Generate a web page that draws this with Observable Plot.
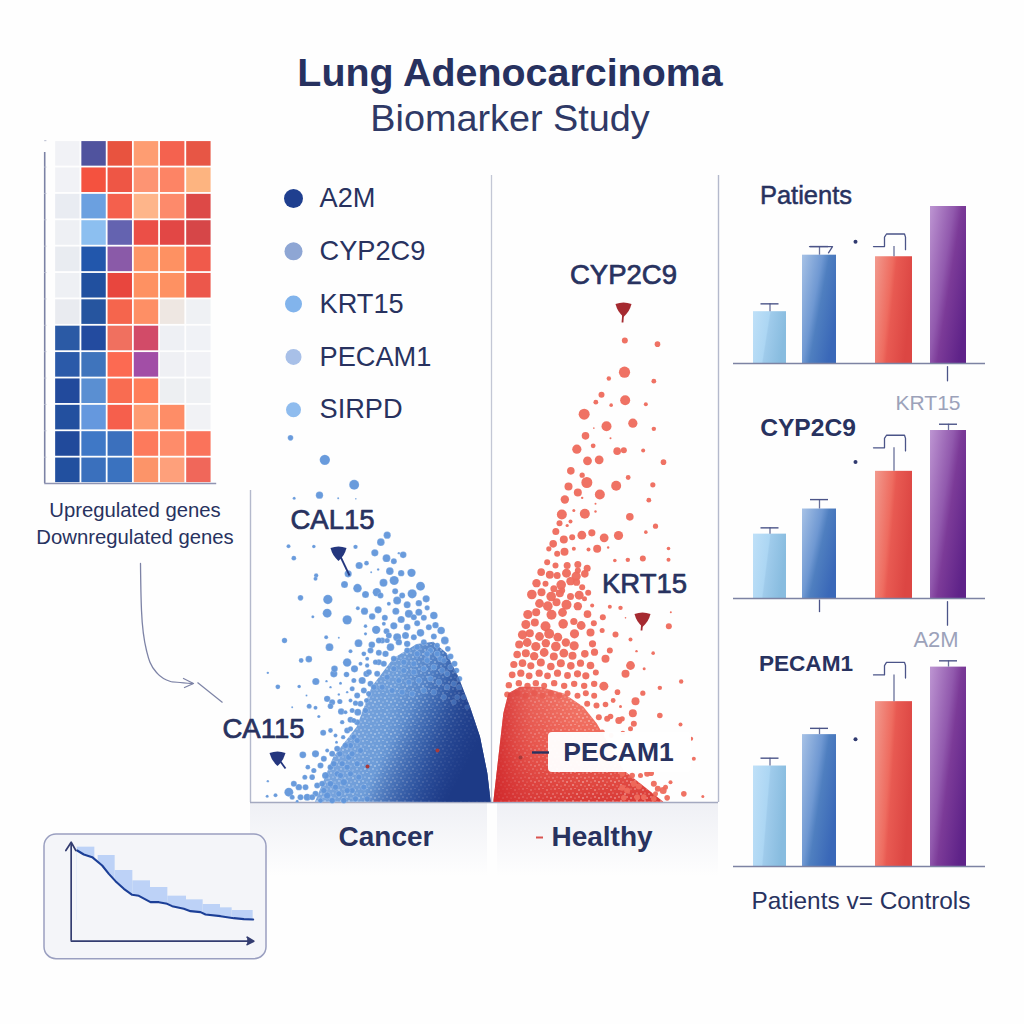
<!DOCTYPE html>
<html><head><meta charset="utf-8">
<script src="https://cdn.jsdelivr.net/npm/d3@7"></script>
<script src="https://cdn.jsdelivr.net/npm/@observablehq/plot@0.6"></script>
<style>
html,body{margin:0;padding:0;background:#fff}
#stage{position:relative;width:1024px;height:1024px;overflow:hidden;font-family:"Liberation Sans",Arial,sans-serif;color:#28325f;background:#fefefe}
#stage svg{position:absolute;overflow:visible;background:transparent;font-family:"Liberation Sans",Arial,sans-serif !important}
.t{position:absolute;white-space:nowrap;transform:translateX(-50%)}
</style></head><body><div id="stage"></div>
<script>
// ---------- data ----------
const titleText = "Lung Adenocarcinoma";
const subtitleText = "Biomarker Study";
const heatColors = [
 ["#f1f2f6","#50539e","#e8533f","#fe9d72","#f4624f","#e75645"],
 ["#f1f2f6","#f4523f","#ee5645","#fd9473","#fd8465","#fdb480"],
 ["#e9ecf2","#6ba0e0","#f4604d","#feb58a","#fd8a6b","#dd4947"],
 ["#eef0f4","#8cbff0","#6463b0","#eb4f47","#e24745","#d64648"],
 ["#e9ecf1","#2257ac","#8a5aa8","#fe9567","#fe9162","#f05a4b"],
 ["#eef0f4","#21509f","#e8463e","#fe9162","#fe9162","#ec574b"],
 ["#e9ebf0","#26559f","#f5654d","#fe8f65","#eee7e2","#eff1f4"],
 ["#2b5aa5","#234b9f","#f0705f","#d24b68","#eef0f4","#f0f2f6"],
 ["#2b5aa9","#3f74bc","#fc6a52","#a24ea6","#eff0f4","#f1f2f6"],
 ["#224a9c","#5a8fd2","#f96c51","#ff7e5a","#edeff2","#eff1f4"],
 ["#23509f","#6598de","#f65f4c","#fe9b72","#fe8d67","#f1f2f5"],
 ["#214a9b","#3f78c6","#3b70bd","#fd7a5c","#fe8c6a","#fa735b"],
 ["#22509f","#3a70bd","#3a72bf","#fc9469","#fea07b","#f0675a"]];
const heatLegend = ["Upregulated genes","Downregulated genes"];
const legendGenes = ["A2M","CYP2C9","KRT15","PECAM1","SIRPD"];
const legendColors = ["#1f3f8f","#8ea6d4","#82b4ec","#a8c0e8","#8fbcee"];
const legendSizes = [9.5,9,8.5,8,7.5];
const groupLabels = ["Cancer","Healthy"];

const blueHull = [[195,1145],[250,1010],[320,920],[365,800],[430,715],[500,672],[550,665],[590,700],[625,770],[660,860],[690,950],[712,1060],[722,1145]];
const blueDots = [[120,52,2.8],[223,118,5.2],[311,193,5],[207,224,3.7],[131,233,1.5],[263,233,1],[316,235,.8],[410,344,3.6],[391,365,3.8],[315,379,2.2],[190,378,1.8],[114,377,2],[373,397,3.6],[458,403,3.3],[445,398,1.2],[130,413,2.4],[408,413,3.9],[430,422,3],[326,435,3.6],[348,428,2.4],[293,460,3.6],[197,465,2.2],[195,475,2],[418,452,3.8],[452,458,3.2],[483,457,4.2],[362,455,1],[383,447,1.2],[431,480,4.6],[399,487,4],[282,492,3.5],[321,503,4.3],[510,497,4.5],[345,522,3.5],[379,515,4.2],[390,525,3],[434,512,3],[485,520,4.6],[455,525,3],[150,532,2.8],[232,537,4.7],[440,540,4],[527,535,3.6],[415,550,2],[470,553,3.5],[505,548,3.2],[530,562,2.6],[322,563,2],[342,572,3.6],[383,568,3.6],[230,578,4.5],[436,572,3.5],[475,580,4],[505,575,3.5],[550,585,3.8],[187,589,1.5],[365,588,3.2],[403,592,3],[290,598,4.7],[452,597,3.6],[490,590,3],[520,592,3],[345,617,1.8],[430,616,3.6],[400,610,2],[470,620,3.3],[500,608,3],[555,614,3.2],[572,630,3.8],[377,628,4.2],[408,632,3],[510,637,3.8],[535,620,3],[227,650,2],[265,652,1],[345,640,1.6],[440,650,4],[465,645,3.5],[490,650,3],[550,648,3],[583,660,3.9],[102,660,2.7],[324,668,3.9],[364,673,3.3],[237,680,3.9],[420,680,3.8],[445,665,3.2],[520,665,3],[560,675,2.8],[592,685,2.8],[300,692,2],[385,697,3],[405,700,3.2],[470,690,3],[500,700,3],[540,690,3],[600,708,3],[175,716,3.3],[152,720,2.4],[290,726,4.3],[350,715,2],[375,725,2.6],[430,715,3],[460,725,3],[490,730,3],[530,720,3],[570,715,3],[612,730,3],[252,745,3.3],[312,745,3.6],[350,735,2.2],[52,757,1.2],[250,760,3.6],[288,762,2.8],[348,760,3.2],[618,750,2.8],[196,783,3.6],[335,780,3.6],[270,788,1.5],[228,782,1.2],[82,799,2.4],[146,798,1.8],[240,800,1.2],[305,805,2.5],[627,775,2.8],[230,835,3.2],[245,845,3],[268,843,2.6],[240,857,2.8],[168,825,1],[265,822,1.2],[290,815,1.2],[355,820,2.8],[315,848,2.6],[176,857,2.5],[195,862,2],[125,860,1],[272,873,3.2],[322,875,3.5],[205,888,1.6],[300,898,3],[275,905,2.2],[348,840,2.5],[218,937,3],[240,930,2.4],[255,945,2],[300,925,2.6],[278,950,2.2],[258,965,1.5],[195,1000,3.6],[157,1003,3.4],[245,1000,3],[268,1000,3],[220,1015,3],[300,975,3],[172,1040,2.4],[190,1050,2.6],[210,1035,3],[240,1040,3],[275,1030,3],[163,1070,2.5],[185,1070,2.8],[225,1065,3.5],[260,1060,3],[295,1010,3.2],[130,1090,3],[145,1100,3.2],[115,1115,4.5],[165,1100,3],[200,1095,3],[240,1090,3.2],[280,1085,3.5],[52,1082,1.2],[50,1127,1.5],[75,1124,2],[140,1142,1.5],[170,1130,3.5],[195,1120,3],[230,1125,3.5],[265,1120,3],[300,1060,3],[305,1110,3],
[360,690,3],[395,660,3],[415,645,3],[385,660,3],[340,700,2.4],[410,660,2.6],[385,725,3],[355,755,3],[330,730,2],[310,780,2.5],[360,790,3],[340,810,3],[320,825,3],[300,840,2],[330,850,3],[345,870,3],[305,870,2.5],[285,875,2],[310,900,2.5],[290,930,3],[320,905,3],[310,950,3],[285,975,3],[320,960,3],[260,985,3],[305,1000,3],[230,990,2],[330,990,3],[290,1040,3],[320,1030,3],[250,1030,3],[270,1065,3],[215,1090,3],[255,1100,3],[290,1110,3],[325,1070,3],[220,1110,3],[185,1130,3],[210,1140,2.5],[245,1140,3],[280,1140,3],[150,1130,3],[125,1130,2.5],[340,1100,3],[315,1135,3],[350,1135,3],
[470,670,3.2],[500,680,3],[530,700,3],[560,700,3],[580,720,2.8],[600,740,2.8],[590,760,2.8],[610,790,2.8],[625,800,2.6],[640,830,2.6],[620,830,2.6],[650,860,2.4],[400,730,3],[430,745,3],[460,750,3],[490,755,3],[520,745,3],[550,740,3],[575,750,3],[380,760,3],[410,770,3],[445,780,3],[475,785,3],[505,780,3],[540,775,3],[565,785,3],[590,800,2.8],[370,800,3],[395,800,3],[425,810,3],[455,815,3],[485,820,3],[520,810,3],[550,815,3],[580,830,2.8],[610,845,2.6]];

const redHull = [[10,1385],[40,1120],[55,1060],[90,1040],[150,1040],[220,1060],[280,1100],[320,1150],[355,1210],[400,1290],[520,1385]];
const redDots = [[403,0,3],[501,11,2.8],[402,95,5.6],[355,114,2.2],[490,122,2.4],[333,163,3],[316,185,2.4],[404,179,5],[466,191,2],[362,194,1.8],[281,221,5.5],[427,248,4.6],[348,257,5],[310,263,.8],[490,265,2.2],[285,286,3.8],[360,293,1],[308,316,2.4],[259,326,4.6],[380,332,3.8],[400,329,3],[458,330,2],[291,361,4.4],[326,358,4.4],[519,365,2.8],[241,391,3.8],[275,404,2.6],[413,411,2.4],[289,426,5.5],[377,436,5],[234,438,4],[487,433,2.6],[262,456,4],[328,462,5],[475,479,2.4],[223,477,4.2],[275,472,1.2],[315,490,1],[283,520,5],[214,522,5],[250,510,1.5],[315,513,1.2],[418,529,3.8],[207,548,3],[240,543,2],[230,555,1.6],[495,557,2.6],[196,573,3.5],[466,575,1.8],[274,584,4.4],[304,577,3.6],[341,592,4.4],[384,585,4.6],[220,597,4],[245,590,3],[188,610,3.8],[320,625,4],[294,627,2],[353,621,1.2],[534,624,1.8],[222,634,4],[250,625,2],[175,625,2.6],[200,640,3],[412,658,2.2],[457,654,3],[373,660,1.8],[534,658,2],[170,665,3],[262,672,3.5],[290,683,3.5],[230,675,3.5],[195,675,3],[152,695,3.8],[200,705,3.5],[262,690,3],[240,722,4.2],[275,740,3],[165,730,3],[190,745,3.5],[215,750,3],[240,768,3.5],[282,775,2.5],[305,795,2],[358,799,2],[390,802,2.2],[337,830,3],[541,815,1],[405,832,.8],[535,857,3],[335,870,2.5],[375,882,3],[420,897,2],[358,930,3],[438,932,1.2],[488,938,1.8],[345,955,4],[420,975,4.4],[405,1000,4],[461,985,1.5],[340,1037,4.5],[572,1023,2.2],[508,1042,2.2],[381,1055,2.8],[457,1058,2.6],[368,1080,2.4],[435,1082,4],[390,1098,1.5],[427,1118,4],[508,1125,2.8],[385,1140,3.5],[430,1150,3],[350,1135,3],[570,1152,2],[420,1165,2.5],[602,1195,2],[610,1255,2],[470,1300,3],[490,1330,3],[450,1305,2.5],[518,1350,3.5],[540,1325,2],[580,1360,2.8],[637,1368,1.5],[495,1360,2.5],[430,1330,3],[410,1350,3],[460,1370,2.8],[525,1340,2.5],
[178,703,4],[228,698,4.5],[257,707,4.6],[283,700,3.8],[138,728,4.2],[212,733,4.8],[258,725,3.6],[124,762,4.8],[153,755,4],[182,768,4.8],[208,758,4],[266,764,4.5],[293,757,3],[147,789,4.4],[172,797,4.8],[198,785,4],[228,793,5],[262,797,4.2],[112,822,4.6],[137,815,4],[183,823,5],[216,816,4.4],[291,821,3.8],[106,852,4.5],[133,846,4],[165,857,5],[218,850,4.8],[250,843,3.6],[272,855,4.4],[310,848,3],[96,883,4.6],[118,878,4],[147,888,4.4],[176,880,5],[202,890,4.4],[252,880,4.6],[300,876,4],[86,912,4],[110,906,4.4],[136,918,4.6],[166,908,4.2],[196,918,4.8],[226,906,4.2],[251,916,4.6],[306,910,3.6],[80,942,3.8],[106,938,4],[131,947,4.2],[161,936,4.4],[190,948,4],[220,938,4.4],[246,946,4],[283,940,3.8],[312,935,3.6],[70,972,3.6],[96,968,3.8],[121,976,3.6],[151,966,4],[181,978,3.8],[211,968,4],[241,976,3.8],[270,968,3.6],[300,975,3.8],[65,1003,3.4],[91,998,3.6],[116,1006,3.4],[146,998,3.6],[171,1006,3.4],[201,998,3.6],[231,1005,3.4],[261,1000,3.6],[286,1006,3.6],[316,996,3],[55,1034,3.2],[85,1028,3.2],[111,1036,3.2],[136,1028,3.2],[161,1036,3],[191,1028,3.2],[221,1036,3.2],[251,1030,3.2],[281,1036,3.2],[311,1030,3.2],[50,1062,3],[80,1058,3],[106,1066,3],[131,1058,3],[156,1066,3],[181,1058,3],[206,1066,3],[231,1058,3],[261,1066,3],[286,1058,3],[311,1066,3],[290,1090,3],[318,1095,3],[345,1092,2.8],[325,1130,3],[360,1128,2.8],[395,1135,2.6],[335,1175,2.6],[362,1185,2.4],[397,1178,2.4],[395,1300,2.8],[425,1305,2.8],[482,1298,2.8],[395,1342,3],[445,1338,3],[502,1345,3],[400,1372,2.8],[440,1370,2.8],[490,1375,2.8],[530,1372,2.8]];

const barPanels = ["Patients","CYP2C9","PECAM1"];
const barValues = [[33,69,68,100],[41,57,81,107],[64,84,105,127]];
const barErrors = [[38,74.5,74.5,100],[45,63,96,111],[69,88,122,131]];
const sideLabels = ["KRT15","A2M"];
const barCaption = "Patients v= Controls";

const kmCurve = [[140,90],[160,102],[185,110],[215,135],[235,160],[255,182],[280,205],[305,223],[325,226],[360,245],[385,245],[410,250],[425,257],[460,265],[480,272],[510,275],[525,282],[570,287],[610,293],[640,296],[668,297]];
const kmSteps = [[140,193,80],[203,254,105],[254,307,150],[307,360,181],[360,412,201],[412,468,227],[468,518,238],[518,570,252],[570,605,262],[605,668,270]];

// ---------- helpers ----------
const INK = "#28325f";
const stage = document.getElementById("stage");
function place(svg,left,top){svg.style.left=left+"px";svg.style.top=top+"px";stage.appendChild(svg);return svg;}
function html(text,cx,cy,css){const d=document.createElement("div");d.className="t";d.textContent=text;d.style.cssText=`left:${cx}px;top:${cy}px;`+css;stage.appendChild(d);return d;}

const grad=(id,x2,y2,stops)=>`<linearGradient id="${id}" x1="0" y1="0" x2="${x2}" y2="${y2}">${stops.map(s=>`<stop offset="${s[0]}" stop-color="${s[1]}" stop-opacity="${s[2]??1}"/>`).join("")}</linearGradient>`;
const speck=(id,pts,w)=>`<pattern id="${id}" patternUnits="userSpaceOnUse" width="${w}" height="${w}">${pts.map(p=>`<circle cx="${p[0]}" cy="${p[1]}" r="${p[2]}" fill="#fff"/>`).join("")}</pattern>`;
const speckPts=[[1,1,.7],[5,.5,.5],[9,2,.7],[13,1,.5],[3,5,.6],[7,6,.8],[11,5,.5],[15,6,.7],[1,9,.7],[5,10,.5],[9,9,.7],[13,10,.8],[3,13,.8],[7,14,.5],[11,13,.7],[15,14,.5]];
const defs=document.createElementNS("http://www.w3.org/2000/svg","svg");
defs.setAttribute("width",0);defs.setAttribute("height",0);
defs.innerHTML=`<defs>
${grad("gBlue",1,.25,[[0,"#86aee4"],[.5,"#6d9cd8"],[.75,"#4574bd"],[1,"#1d3a86"]])}
${grad("gBlueDark",1,.5,[[.6,"#1d3a86",0],[.9,"#1f3d8a",.75],[1,"#1d3a86",1]])}
${grad("gRed",0,1,[[0,"#f27b6c"],[.5,"#ee6557"],[1,"#d93a36"]])}
${grad("gRedDark",1,0,[[0,"#cf2529",.85],[.22,"#d8383a",.35],[.5,"#e0413f",0]])}
${grad("gBand",0,1,[[0,"#eff0f5"],[1,"#fefefe"]])}
${grad("b0",1,.25,[[0,"#bfe0f8"],[.48,"#acd6f3"],[.52,"#9fcbeb"],[1,"#88bcdf"]])}
${grad("b1",1,.6,[[0,"#a7c2e6"],[.45,"#6f98d2"],[.6,"#4f7fc0"],[1,"#3a68b8"]])}
${grad("b2",1,.3,[[0,"#f29a8e"],[.45,"#ee6c60"],[.55,"#e85a52"],[1,"#dc4643"]])}
${grad("b3",1,.7,[[0,"#bd95d2"],[.45,"#9159ad"],[.6,"#7c3b98"],[1,"#5f2389"]])}
${speck("sBlue",speckPts,16)}${speck("sRed",speckPts,16)}
</defs>`;
stage.appendChild(defs);

// ---------- panel backgrounds and frames (page-wide pixel scale) ----------
const page = {width:1024,height:1024,margin:0,x:{domain:[0,1024],axis:null},y:{domain:[1024,0],axis:null},r:{type:"identity"}};
place(Plot.plot({...page,marks:[
  Plot.rect([[250,487],[497,718]],{x1:d=>d[0],x2:d=>d[1],y1:803,y2:876,fill:"url(#gBand)"}),
  Plot.ruleX([250],{y1:490,y2:802,stroke:"#b4b9cc",strokeWidth:1.4}),
  Plot.ruleX([491],{y1:175,y2:802,stroke:"#c3c7d5",strokeWidth:1.3}),
  Plot.ruleX([718],{y1:175,y2:802,stroke:"#b4b9cc",strokeWidth:1.4}),
  Plot.ruleY([802],{x1:250,x2:718,stroke:"#a4a9c0",strokeWidth:1.4})
]}),0,0);

// ---------- heatmap ----------
const heatCells = heatColors.flatMap((row,r)=>row.map((c,k)=>({r,k,c})));
const rowIdx = d3.range(heatColors.length);
place(Plot.plot({width:190,height:360,margin:0,
  x:{domain:[-0.62,6.63],axis:null},y:{domain:[13.15,-0.5],axis:null},
  marks:[
    Plot.rect(heatCells,{x1:"k",x2:d=>d.k+1,y1:"r",y2:d=>d.r+1,fill:"c",inset:0.9}),
    Plot.ruleX([-0.383],{y1:0.45,y2:13.0,stroke:"#7c82a5",strokeWidth:1.6}),
    Plot.ruleY([13.0],{x1:-0.383,x2:6.18,stroke:"#8f94b2",strokeWidth:1.6}),
    Plot.ruleY(rowIdx,{x1:-0.383,x2:-0.3,stroke:"#b8bccf",strokeWidth:1})
  ]}),37.8,127);
heatLegend.forEach((t,i)=>html(t,135,498+i*27,"font-size:20.3px;line-height:24px;"));

// ---------- volcano, cancer side ----------
place(Plot.plot({width:250,height:400,margin:0,
  x:{domain:[0,750],axis:null},y:{domain:[1200,0],axis:null},r:{type:"identity"},
  marks:[
    Plot.areaY(blueHull,{x:d=>d[0],y1:1145,y2:d=>d[1],fill:"url(#gBlue)"}),
    Plot.areaY(blueHull,{x:d=>d[0],y1:1145,y2:d=>d[1],fill:"url(#sBlue)",fillOpacity:.7}),
    Plot.dot(blueDots,{x:d=>d[0],y:d=>d[1],r:d=>d[2],fill:"#6196da",fillOpacity:.95,stroke:"#fff",strokeOpacity:.35,strokeWidth:.5}),
    Plot.areaY(blueHull,{x:d=>d[0],y1:1145,y2:d=>d[1],fill:"url(#gBlueDark)"})
  ]}),250,420);

// ---------- volcano, healthy side ----------
place(Plot.plot({width:230,height:470,margin:0,
  x:{domain:[0,690],axis:null},y:{domain:[1410,0],axis:null},r:{type:"identity"},
  marks:[
    Plot.areaY(redHull,{x:d=>d[0],y1:1385,y2:d=>d[1],fill:"url(#gRed)"}),
    Plot.areaY(redHull,{x:d=>d[0],y1:1385,y2:d=>d[1],fill:"url(#sRed)",fillOpacity:.7}),
    Plot.dot(redDots,{x:d=>d[0],y:d=>d[1],r:d=>d[2],fill:"#ee6a5c",fillOpacity:.95}),
    Plot.areaY(redHull,{x:d=>d[0],y1:1385,y2:d=>d[1],fill:"url(#gRedDark)"})
  ]}),490,340);

// ---------- annotations ----------
const drop={draw(ctx,size){const s=Math.sqrt(size/Math.PI);ctx.moveTo(-s,-s*.55);ctx.quadraticCurveTo(0,-s*.95,s,-s*.55);ctx.quadraticCurveTo(s*.75,s*.45,0,s*1.05);ctx.quadraticCurveTo(-s*.75,s*.45,-s,-s*.55);ctx.closePath();}};
const geneLabels=[["CAL15",332,520],["CA115",263,729],["CYP2C9",623,275],["KRT15",644,584]];
const pins=[[338,552,"#24367e",[349,575]],[277,757,"#24367e",[285,768]],[623,308,"#a52a30",[622,322]],[642,618,"#a52a30",[641,630]]];
place(Plot.plot({...page,marks:[
  Plot.dot(legendGenes,{x:293,y:(d,i)=>198+i*52.8,r:(d,i)=>legendSizes[i],fill:(d,i)=>legendColors[i]}),
  Plot.text(legendGenes,{x:319,y:(d,i)=>198+i*52.8,text:d=>d,textAnchor:"start",fontSize:27.2,fill:INK}),
  Plot.rect([0],{x1:548,x2:691,y1:732,y2:772,fill:"#fff",fillOpacity:.97,rx:4}),
  Plot.ruleY([752],{x1:532,x2:549,stroke:INK,strokeWidth:2.4}),
  Plot.text(["PECAM1"],{x:618,y:752,text:d=>d,fontSize:26.5,fontWeight:700,fill:INK}),
  Plot.text(geneLabels,{x:d=>d[1],y:d=>d[2],text:d=>d[0],fontSize:27.5,fill:INK,stroke:INK,strokeWidth:.7}),
  Plot.link(pins,{x1:d=>d[0],y1:d=>d[1],x2:d=>d[3][0],y2:d=>d[3][1],stroke:d=>d[2],strokeWidth:1.8}),
  Plot.dot(pins,{x:d=>d[0],y:d=>d[1],r:8,symbol:drop,fill:d=>d[2]}),
  Plot.dot([[367,766],[437,750],[520,757]],{x:d=>d[0],y:d=>d[1],r:2,fill:"#a83a3a"}),
  Plot.line([[140,563],[141,610],[146,650],[156,672],[170,681],[192,683]],{x:d=>d[0],y:d=>d[1],curve:"monotone-y",stroke:"#7d83a6",strokeWidth:1.3}),
  Plot.link([0],{x1:197,y1:682,x2:222,y2:702,stroke:"#7d83a6",strokeWidth:1.2}),
  Plot.line([[183,678],[193,683],[184,687]],{x:d=>d[0],y:d=>d[1],stroke:"#7d83a6",strokeWidth:1.3}),
  Plot.ruleY([837],{x1:536,x2:543,stroke:"#d9534f",strokeWidth:2})
]}),0,0);
groupLabels.forEach((t,i)=>html(t,i?602:386,822,"font-size:28px;font-weight:700;line-height:30px;"));

// ---------- bars ----------
const barX=[[753,786],[802,836],[875,912],[930,966]];
barPanels.forEach((name,p)=>{
  const base=[363,598,866][p];
  const rows=barValues[p].map((v,i)=>({v,e:barErrors[p][i],i,x1:barX[i][0],x2:barX[i][1]}));
  const red=rows[2], blue=rows[1];
  const hook=[[873,red.e],[884,red.e],[884,red.e+6],[886,red.e+8],[904,red.e+8],[905,red.e+6],[905,red.e-2]];
  const blueHook=[[809,blue.e],[824,blue.e],[832,blue.e],[828,blue.e-4]];
  const extra = p===0?[[947,-2],[947,-11]]:p===1?[[947,-2],[947,-17]]:[];
  place(Plot.plot({width:290,height:260,margin:0,
    x:{domain:[720,1010],axis:null},y:{domain:[-19.1,146.5],axis:null},
    marks:[
      Plot.rect(rows,{x1:"x1",x2:"x2",y1:0,y2:"v",fill:d=>`url(#b${d.i})`}),
      Plot.ruleY([0],{x1:733,x2:985,stroke:"#7d83a3",strokeWidth:1.6}),
      Plot.ruleX(rows.filter(d=>d.e>d.v),{x:d=>(d.x1+d.x2)/2,y1:"v",y2:"e",stroke:"#69709a",strokeWidth:1.3}),
      Plot.ruleY(rows.filter(d=>d.e>d.v&&d.i!==2),{y:"e",x1:d=>(d.x1+d.x2)/2-9,x2:d=>(d.x1+d.x2)/2+9,stroke:"#4b5488",strokeWidth:1.4}),
      Plot.line(hook,{x:d=>d[0],y:d=>d[1],stroke:"#4b5488",strokeWidth:1.3}),
      ...(p===0?[Plot.line(blueHook,{x:d=>d[0],y:d=>d[1],stroke:"#4b5488",strokeWidth:1.3})]:[]),
      Plot.dot([0],{x:855,y:blue.e+(p===0?3:p===1?24:-7),r:2,fill:"#303a70"}),
      ...(extra.length?[Plot.line(extra,{x:d=>d[0],y:d=>d[1],stroke:"#4b5488",strokeWidth:1.3})]:[]),
      ...(p===1?[Plot.ruleX([819],{y1:-1,y2:-9,stroke:"#4b5488",strokeWidth:1.3})]:[])
    ]}),720,base-230);
});
html(barPanels[0],806,181,"font-size:25.5px;font-weight:400;-webkit-text-stroke:.5px #28325f;line-height:28px;");
html(barPanels[1],808,414,"font-size:24.6px;font-weight:700;line-height:28px;");
html(barPanels[2],806,650,"font-size:22.6px;font-weight:700;line-height:28px;");
html(sideLabels[0],928,389,"font-size:21px;color:#9ca2ba;line-height:28px;");
html(sideLabels[1],936,626,"font-size:22px;color:#9ca2ba;line-height:28px;");
html(barCaption,861,887,"font-size:24.4px;line-height:28px;");

// ---------- survival inset ----------
place(Plot.plot({width:250,height:150,margin:0,
  x:{domain:[0,750],axis:null},y:{domain:[450,0],axis:null},
  marks:[
    Plot.rect([0],{x1:42,x2:708,y1:42,y2:416,fill:"#f4f5f9",stroke:"#9a9fc0",strokeWidth:1.5,rx:12}),
    Plot.rect(kmSteps,{x1:d=>d[0],x2:d=>d[1],y1:d=>d[2],y2:300,fill:"#bdd2f7"}),
    Plot.areaY(kmCurve,{x:d=>d[0],y1:340,y2:d=>d[1],fill:"#f4f5f9"}),
    Plot.line(kmCurve,{x:d=>d[0],y:d=>d[1],stroke:"#1c3f97",strokeWidth:2.1}),
    Plot.ruleX([122],{y1:70,y2:362,stroke:"#333c70",strokeWidth:1.7}),
    Plot.ruleY([362],{x1:122,x2:665,stroke:"#333c70",strokeWidth:1.7}),
    Plot.line([[106,90],[122,65],[136,90]],{x:d=>d[0],y:d=>d[1],stroke:"#333c70",strokeWidth:1.7}),
    Plot.line([[650,350],[670,362],[650,372]],{x:d=>d[0],y:d=>d[1],stroke:"#333c70",fill:"#333c70",strokeWidth:1.7})
  ]}),30,820);

// ---------- titles ----------
html(titleText,510,49,"font-size:39.4px;font-weight:700;line-height:46px;color:#27315f;");
html(subtitleText,510,95,"font-size:37.8px;font-weight:400;line-height:46px;color:#2f3966;");
</script></body></html>
